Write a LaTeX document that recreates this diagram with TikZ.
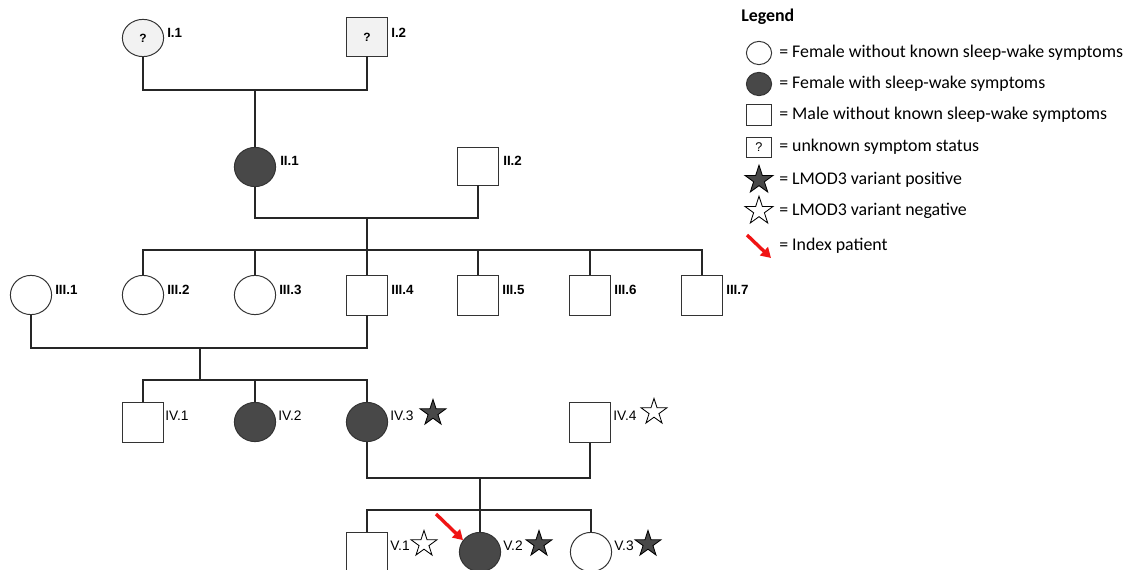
\documentclass[tikz,border=0pt]{standalone}
\usepackage{fontspec}
\setmainfont{Liberation Sans}
\newfontfamily\legendfont{Carlito}
\usetikzlibrary{positioning,arrows.meta,calc,shapes.geometric}
\definecolor{sick}{HTML}{484848}
\definecolor{unk}{HTML}{F2F2F2}
\definecolor{idxred}{HTML}{F01414}

\begin{document}
\begin{tikzpicture}[
    x=0.025cm, y=-0.025cm,
    fem/.style={ellipse, draw=black!80, line width=0.7pt, fill=white,
                minimum width=1.03cm, minimum height=0.98cm, inner sep=0pt},
    mal/.style={rectangle, draw=black!80, line width=0.7pt, fill=white,
                minimum width=1.03cm, minimum height=1.0cm, inner sep=0pt},
    aff/.style={fill=sick},
    unknown/.style={fill=unk, font=\fontsize{8.5}{9}\selectfont\bfseries},
    tag/.style={anchor=west, inner sep=0pt, font=\fontsize{9.5}{11}\selectfont\bfseries},
    tagthin/.style={anchor=west, inner sep=0pt, font=\fontsize{9.8}{11}\selectfont},
    posstar/.style={star, star points=5, star point ratio=2.618, minimum size=0.68cm,
                    inner sep=0pt, draw=black, line width=0.6pt, fill=sick},
    negstar/.style={posstar, fill=white},
    link/.style={line width=0.9pt, draw=black!85},
    idx/.style={-{Triangle[length=7pt,width=8pt]}, idxred, line width=2.4pt},
    legtxt/.style={anchor=west, inner sep=0pt, font=\legendfont\fontsize{12.7}{14}\selectfont}
]
  \useasboundingbox (0,0) rectangle (1129,570);
  \clip (0,0) rectangle (1129,570);

  % generation I
  \node[fem, unknown, minimum height=0.93cm] (I1) at (143,38) {?};
  \node[mal, unknown, minimum height=0.95cm] (I2) at (367,37) {?};
  \node[tag] (tI1) at (167,33) {I.1};
  \node[tag] (tI2) at (391,33) {I.2};

  % generation II
  \node[fem, aff] (II1) at (255,167) {};
  \node[mal, minimum height=0.95cm] (II2) at (478,166) {};
  \node[tag] (tII1) at (280,161) {II.1};
  \node[tag] (tII2) at (503,161) {II.2};

  % generation III
  \node[fem] (III1) at (31,295) {};
  \node[fem] (III2) at (143,295) {};
  \node[fem] (III3) at (255,295) {};
  \node[mal] (III4) at (367,295) {};
  \node[mal] (III5) at (478,295) {};
  \node[mal] (III6) at (590,295) {};
  \node[mal] (III7) at (702,295) {};
  \node[tag] (tIII1) at (55,290) {III.1};
  \node[tag] (tIII2) at (167,290) {III.2};
  \node[tag] (tIII3) at (279,290) {III.3};
  \node[tag] (tIII4) at (391,290) {III.4};
  \node[tag] (tIII5) at (502,290) {III.5};
  \node[tag] (tIII6) at (614,290) {III.6};
  \node[tag] (tIII7) at (726,290) {III.7};

  % generation IV
  \node[mal] (IV1) at (143,422) {};
  \node[fem, aff] (IV2) at (255,422) {};
  \node[fem, aff] (IV3) at (367,422) {};
  \node[mal] (IV4) at (590,422) {};
  \node[tagthin] (tIV1) at (165,416) {IV.1};
  \node[tagthin] (tIV2) at (278,416) {IV.2};
  \node[tagthin] (tIV3) at (390,416) {IV.3};
  \node[tagthin] (tIV4) at (613,416) {IV.4};
  \node[posstar] (sIV3) at (433,413) {};
  \node[negstar] (sIV4) at (654,412) {};

  % generation V
  \node[mal] (V1) at (367,552) {};
  \node[fem, aff] (V2) at (480,552) {};
  \node[fem] (V3) at (591,552) {};
  \node[tagthin] (tV1) at (390,546) {V.1};
  \node[tagthin] (tV2) at (503,546) {V.2};
  \node[tagthin] (tV3) at (614,546) {V.3};
  \node[negstar] (sV1) at (424,544) {};
  \node[posstar] (sV2) at (539,544) {};
  \node[posstar] (sV3) at (648,544) {};

  % lines of descent
  \coordinate (mI) at (255,90);
  \draw[link] (I1) |- (mI) -| (I2);
  \draw[link] (mI) -- (II1);

  \coordinate (mII) at (367,218);
  \coordinate (sIII) at (367,250);
  \draw[link] (II1) |- (mII) -| (II2);
  \draw[link] (mII) -- (III4);
  \draw[link] (III2) |- (sIII) -| (III7);
  \foreach \k in {III3,III5,III6}
    \draw[link] (\k) -- (\k |- sIII);

  \coordinate (mIII) at (200,348);
  \coordinate (sIV) at (200,380);
  \draw[link] (III1) |- (mIII) -| (III4);
  \draw[link] (mIII) -- (sIV);
  \draw[link] (IV1) |- (sIV) -| (IV3);
  \draw[link] (IV2) -- (IV2 |- sIV);

  \coordinate (mIV) at (480,478);
  \coordinate (sV) at (480,510);
  \draw[link] (IV3) |- (mIV) -| (IV4);
  \draw[link] (mIV) -- (V2);
  \draw[link] (V1) |- (sV) -| (V3);

  \coordinate (idxtail) at (436,514);
  \draw[idx] (idxtail) -- (V2.145);

  % legend
  \node[anchor=west, inner sep=0pt, font=\legendfont\bfseries\fontsize{12.7}{14}\selectfont]
    (leghead) at (741,17) {Legend};
  \node[fem, minimum width=0.63cm, minimum height=0.58cm] (kFem) at (759,53) {};
  \node[fem, aff, minimum width=0.63cm, minimum height=0.58cm] (kAff) at (759,84) {};
  \node[mal, minimum width=0.63cm, minimum height=0.53cm] (kMal) at (759,115) {};
  \node[mal, minimum width=0.63cm, minimum height=0.5cm,
        font=\fontsize{9}{10}\selectfont] (kUnk) at (759,147) {?};
  \node[posstar, minimum size=0.74cm] (kPos) at (759,180) {};
  \node[negstar, minimum size=0.74cm] (kNeg) at (759,211) {};
  \coordinate (kArrA) at (747,235);
  \coordinate (kArrB) at (771,258);
  \draw[idx] (kArrA) -- (kArrB);
  \node[legtxt] (tFem) at (779,53) {= Female without known sleep-wake symptoms};
  \node[legtxt] (tAff) at (779,84) {= Female with sleep-wake symptoms};
  \node[legtxt] (tMal) at (779,115) {= Male without known sleep-wake symptoms};
  \node[legtxt] (tUnk) at (779,147) {= unknown symptom status};
  \node[legtxt] (tPos) at (779,180) {= LMOD3 variant positive};
  \node[legtxt] (tNeg) at (779,211) {= LMOD3 variant negative};
  \node[legtxt] (tIdx) at (779,246) {= Index patient};
\end{tikzpicture}
\end{document}
